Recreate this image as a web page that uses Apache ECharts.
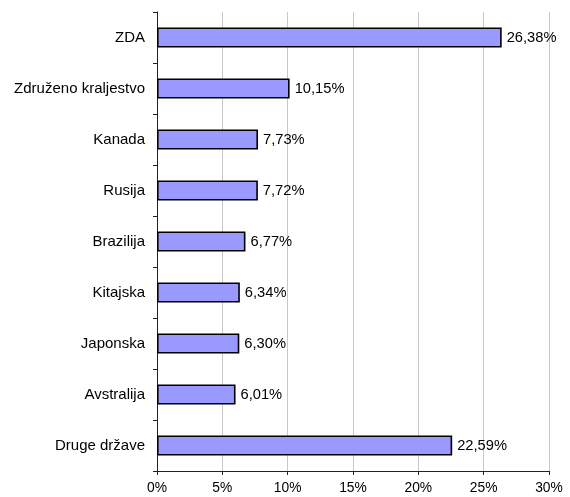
<!DOCTYPE html>
<html>
<head>
<meta charset="utf-8">
<script src="https://cdn.jsdelivr.net/npm/echarts@6/dist/echarts.min.js"></script>
<style>
html,body{margin:0;padding:0;background:#fff;}
#chart{width:570px;height:497px;}
</style>
</head>
<body>
<div id="chart"></div>
<script>
// Countries, listed top to bottom
const countries = ['ZDA', 'Združeno kraljestvo', 'Kanada', 'Rusija', 'Brazilija', 'Kitajska', 'Japonska', 'Avstralija', 'Druge države'];
// Share in percent
const shares = [26.38, 10.15, 7.73, 7.72, 6.77, 6.34, 6.30, 6.01, 22.59];
// Value-axis range and step (percent)
const axisMin = 0, axisMax = 30, axisStep = 5;

const fmt = v => v.toFixed(2).replace('.', ',') + '%';
const font = 'Liberation Sans, Arial, sans-serif';

const chart = echarts.init(document.getElementById('chart'), null, {renderer: 'canvas'});
chart.setOption({
  animation: false,
  backgroundColor: '#fff',
  grid: {left: 157, right: 21, top: 12, bottom: 26, containLabel: false},
  xAxis: {
    type: 'value',
    min: axisMin, max: axisMax, interval: axisStep,
    axisLine: {show: true, lineStyle: {color: '#222', width: 1}},
    axisTick: {show: true, length: 4, lineStyle: {color: '#222'}},
    splitLine: {show: true, lineStyle: {color: '#c8c8c8', width: 1}},
    axisLabel: {formatter: v => v + '%', color: '#000', fontFamily: font, fontSize: 13.8, margin: 10}
  },
  yAxis: {
    type: 'category',
    data: countries,
    inverse: true,
    axisLine: {show: true, lineStyle: {color: '#222', width: 1}},
    axisTick: {show: true, length: 4, alignWithLabel: false, lineStyle: {color: '#222'}},
    axisLabel: {color: '#000', fontFamily: font, fontSize: 15, margin: 12}
  },
  series: [{
    type: 'bar',
    data: shares,
    barWidth: 20,
    itemStyle: {color: '#9999ff', borderColor: '#000', borderWidth: 1.6},
    label: {show: true, position: 'right', distance: 5, formatter: p => fmt(p.value), color: '#000', fontFamily: font, fontSize: 14.7}
  }]
});
</script>
</body>
</html>
